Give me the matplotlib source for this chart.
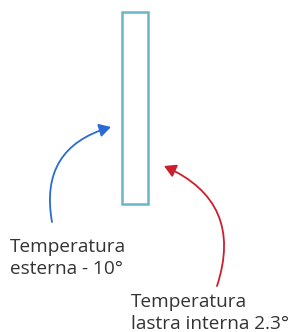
import matplotlib
matplotlib.use("Agg")
import matplotlib.pyplot as plt
from matplotlib.patches import Rectangle, FancyArrowPatch

labels = ["Temperatura\nesterna - 10°", "Temperatura\nlastra interna 2.3°"]
label_pos = [(10, 252), (131, 307)]   # baseline of first line
line_step = 22
arrow_colors = ["#2a6bd4", "#cc1f2e"]
arrow_tails = [(52, 222), (217, 286)]
arrow_heads = [(111, 127), (164, 166)]
arrow_rads = [-0.45, 0.45]
glass = (122, 12, 26, 192)

fig = plt.figure(figsize=(2.96, 3.32), dpi=100)
ax = fig.add_axes([0, 0, 1, 1])
ax.set_xlim(0, 296)
ax.set_ylim(332, 0)
ax.axis("off")

ax.add_patch(Rectangle((glass[0], glass[1]), glass[2], glass[3], fill=False,
                       edgecolor="#6ab5cc", linewidth=1.8))

for t, h, c, r in zip(arrow_tails, arrow_heads, arrow_colors, arrow_rads):
    ax.add_patch(FancyArrowPatch(t, h, connectionstyle=f"arc3,rad={r}",
                                 arrowstyle="-|>,head_length=7,head_width=4",
                                 color=c, linewidth=1.3, shrinkA=0, shrinkB=0))

for s, (x, y) in zip(labels, label_pos):
    for i, line in enumerate(s.split("\n")):
        ax.text(x, y + i * line_step, line, fontsize=13.7, family="Open Sans",
                color="#333333", va="baseline", ha="left")

fig.savefig("out.png", dpi=100)
